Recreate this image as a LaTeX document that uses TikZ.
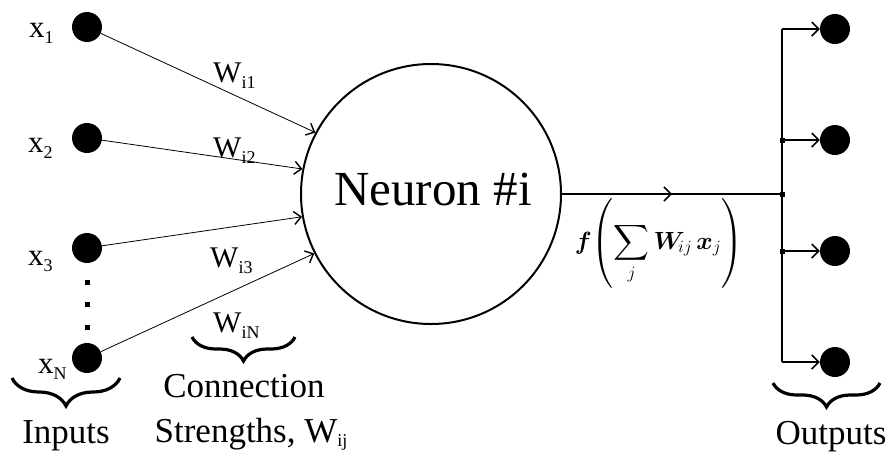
\documentclass[tikz,border=0pt]{standalone}
\usepackage{amsmath,bm}
\usepackage{fontspec}
\setmainfont{Liberation Serif}
\usetikzlibrary{arrows.meta,decorations.pathreplacing,decorations.markings}
\newcommand{\myfs}[1]{\fontsize{#1}{#1}\selectfont}
\newcommand{\mysub}[3]{{\myfs{#3}#1}\raisebox{-6pt}{\myfs{18}#2}}
\begin{document}
\begin{tikzpicture}[x=1pt,y=-1pt,
  dot/.style={circle,fill=black,inner sep=0pt,minimum size=30pt},
  sq/.style={fill=black,inner sep=0pt,minimum size=5pt},
  inarr/.style={line width=0.8pt,-{Straight Barb[length=7pt,width=13pt,line width=1.4pt]}},
  outln/.style={line width=1.3pt},
  outarr/.style={line width=1.3pt,-{Straight Barb[length=7pt,width=14pt,line width=1.5pt]}},
  brc/.style={decorate,decoration={brace,amplitude=#1},line width=3.2pt},
  lbl/.style={inner sep=0pt,anchor=base west},
  txt/.style={inner sep=0pt,anchor=base,font=\myfs{35}},
  ]
\useasboundingbox (0,0) rectangle (889,451);
% neuron
\node[draw,circle,line width=2pt,minimum size=260pt,inner sep=0pt] (neuron) at (431,194) {};
\node[inner sep=0pt,anchor=base,font=\myfs{49}] (ntext) at (433,205) {Neuron \#i};
% inputs
\node[dot] (x1) at (87,27) {};
\node[dot] (x2) at (87,138) {};
\node[dot] (x3) at (87,248) {};
\node[dot] (xN) at (87,358) {};
\node[sq] (d1) at (87,282) {};
\node[sq] (d2) at (87,304) {};
\node[sq] (d3) at (87,327) {};
\node[lbl] (lx1) at (29,37) {\mysub{x}{1}{31}};
\node[lbl] (lx2) at (28,152) {\mysub{x}{2}{31}};
\node[lbl] (lx3) at (28,265) {\mysub{x}{3}{31}};
\node[lbl] (lxN) at (38,373) {\mysub{x}{N}{31}};
% connections
\draw[inarr] (x1) -- (neuron.152.2);
\draw[inarr] (x2) -- (neuron.169.8);
\draw[inarr] (x3) -- (neuron.190.2);
\draw[inarr] (xN) -- (neuron.207.4);
\node[lbl] (w1) at (213,82) {\mysub{W}{i1}{30}};
\node[lbl] (w2) at (213,157) {\mysub{W}{i2}{30}};
\node[lbl] (w3) at (210,267) {\mysub{W}{i3}{30}};
\node[lbl] (wN) at (213,332) {\mysub{W}{iN}{30}};
% braces and captions
\coordinate (bwr) at (295,337); \coordinate (bwl) at (192,337);
\draw[brc=24pt] (bwr) -- (bwl);
\coordinate (bir) at (120,378); \coordinate (bil) at (12,378);
\draw[brc=28pt] (bir) -- (bil);
\coordinate (bor) at (880,383); \coordinate (bol) at (773,383);
\draw[brc=24pt] (bor) -- (bol);
\node[txt] (conn) at (244,397) {Connection};
\node[txt] (str) at (251,442) {Strengths, {\myfs{35}W}\raisebox{-4pt}{\myfs{18}ij}};
\node[txt] (inp) at (66,443) {Inputs};
\node[txt] (outp) at (831,444) {Outputs};
% output
\coordinate (junc) at (782,194);
\coordinate (b1) at (782,29);
\coordinate (b2) at (782,140);
\coordinate (b3) at (782,251);
\coordinate (b4) at (782,362);
\node[dot] (o1) at (835,29) {};
\node[dot] (o2) at (835,140) {};
\node[dot] (o3) at (835,251) {};
\node[dot] (o4) at (835,362) {};
\draw[outln,postaction={decorate},decoration={markings,mark=at position 0.5 with {\arrow{Straight Barb[length=7pt,width=14pt,line width=1.5pt]}}}] (neuron.east) -- (junc);
\draw[outln] (b1) -- (b4);
\draw[outarr] (b1) -- (o1);
\draw[outarr] (b2) -- (o2);
\draw[outarr] (b3) -- (o3);
\draw[outarr] (b4) -- (o4);
\node[sq] (s1) at (b2) {};
\node[sq] (s2) at (junc) {};
\node[sq] (s3) at (b3) {};
\node[inner sep=0pt,font=\myfs{26}] (fx) at (659,243) {$\bm{f}\!\left(\displaystyle\sum_j \bm{W}_{\!ij}\,\bm{x}_j\right)$};
\end{tikzpicture}
\end{document}
